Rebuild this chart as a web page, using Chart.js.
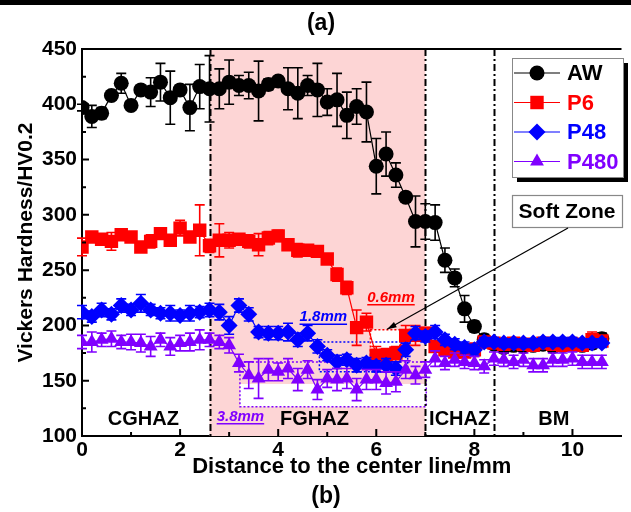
<!DOCTYPE html>
<html>
<head>
<meta charset="utf-8">
<title>Vickers hardness profile</title>
<script src="https://cdn.jsdelivr.net/npm/chart.js@4.4.1/dist/chart.umd.min.js"></script>
<style>
    html, body { margin: 0; padding: 0; background: #fff; }
    #wrap { width: 631px; height: 512px; }
</style>
</head>
<body>
<div id="wrap"><canvas id="hvChart" width="631" height="512"></canvas></div>
<script>
// Distance to the weld center line (mm)
const distance = [0, 0.2, 0.4, 0.6, 0.8, 1, 1.2, 1.4, 1.6, 1.8, 2, 2.2, 2.4, 2.6, 2.8, 3, 3.2, 3.4, 3.6, 3.8,
    4, 4.2, 4.4, 4.6, 4.8, 5, 5.2, 5.4, 5.6, 5.8, 6, 6.2, 6.4, 6.6, 6.8, 7, 7.2, 7.4, 7.6, 7.8,
    8, 8.2, 8.4, 8.6, 8.8, 9, 9.2, 9.4, 9.6, 9.8, 10, 10.2, 10.4, 10.6];

// Hardness (HV0.2) and error bars per condition
const hvAW = [397, 389, 392, 408, 419, 399, 413, 411, 420, 406, 413, 397, 416, 414, 414, 420, 417, 417, 412, 418,
    421, 414, 410, 417, 413, 402, 404, 390, 398, 393, 344, 355, 336, 316, 294, 294, 293, 259, 243, 215,
    199, 187, 183, 180, 182, 181, 182, 183, 181, 182, 183, 182, 184, 188];
const errAW = [3, 10, 5, 3, 9, 3, 3, 13, 17, 24, 4, 21, 20, 30, 18, 20, 9, 12, 27, 5,
    4, 19, 23, 9, 24, 12, 24, 21, 16, 27, 25, 20, 11, 4, 23, 16, 16, 11, 8, 12,
    5, 5, 4, 5, 4, 4, 5, 4, 5, 4, 5, 4, 5, 5];

const hvP6 = [271, 280, 278, 276, 282, 280, 271, 276, 283, 277, 288, 280, 286, 272, 277, 277, 278, 276, 273, 279,
    281, 273, 268, 268, 267, 260, 246, 234, 198, 203, 173, 173, 175, 191, 191, 193, 181, 178, 176, 176,
    178, 185, 184, 183, 184, 183, 182, 184, 183, 182, 183, 182, 187, 186];
const errP6 = [8, 4, 4, 8, 4, 4, 4, 6, 4, 4, 7, 4, 23, 6, 15, 7, 4, 6, 10, 6,
    5, 5, 6, 4, 5, 4, 6, 6, 16, 8, 8, 6, 6, 9, 9, 5, 5, 4, 4, 4,
    6, 5, 4, 5, 4, 4, 5, 4, 5, 4, 6, 4, 7, 4];

const hvP48 = [212, 208, 214, 210, 218, 214, 220, 214, 211, 211, 209, 211, 212, 214, 212, 200, 218, 210, 194, 193,
    193, 194, 187, 193, 181, 173, 167, 169, 164, 166, 163, 164, 161, 178, 193, 190, 194, 187, 183, 180,
    178, 185, 185, 184, 184, 184, 184, 185, 185, 185, 185, 184, 184, 184];
const errP48 = [6, 5, 6, 5, 6, 5, 8, 5, 5, 7, 5, 7, 5, 6, 7, 8, 6, 6, 5, 6,
    6, 8, 6, 7, 6, 5, 6, 5, 6, 5, 5, 6, 6, 6, 6, 5, 6, 5, 5, 5,
    5, 4, 4, 4, 4, 4, 4, 4, 4, 4, 4, 4, 4, 4];

const hvP480 = [185, 185, 187, 188, 185, 185, 184, 181, 187, 181, 184, 185, 187, 187, 185, 182, 166, 155, 152, 160,
    158, 161, 151, 160, 142, 152, 151, 152, 142, 151, 151, 148, 149, 160, 155, 160, 170, 166, 169, 167,
    166, 163, 170, 169, 167, 169, 164, 164, 169, 169, 170, 167, 167, 167];
const errP480 = [6, 9, 6, 7, 6, 7, 8, 9, 6, 8, 7, 8, 9, 6, 6, 7, 8, 12, 18, 10,
    8, 9, 10, 8, 9, 8, 10, 9, 10, 9, 9, 10, 9, 8, 8, 7, 7, 6, 6, 6,
    6, 6, 6, 6, 6, 6, 6, 6, 6, 6, 6, 6, 6, 6];

const seriesNames = ['AW', 'P6', 'P48', 'P480'];
const zoneBounds = [2.6, 7.0, 8.4];
const zoneNames = ['CGHAZ', 'FGHAZ', 'ICHAZ', 'BM'];
const softWidths = ['3.8mm', '1.8mm', '0.6mm'];

const FONT = "'Liberation Sans', Arial, sans-serif";
const colors = ['#000000', '#ff0000', '#0000ff', '#8000ff'];
const shapes = ['circle', 'rect', 'rectRot', 'triangle'];
const radii = [7.5, 9.5, 8.5, 8];
const errors = [errAW, errP6, errP48, errP480];

function toPoints(values) {
    return distance.map((d, i) => ({ x: d, y: values[i] }));
}

function makeDataset(i, values) {
    return {
        label: seriesNames[i],
        data: toPoints(values),
        borderColor: colors[i],
        backgroundColor: colors[i],
        borderWidth: 1.2,
        pointStyle: shapes[i],
        pointRadius: radii[i],
        pointBorderWidth: 0,
        pointBackgroundColor: colors[i],
        order: 4 - i
    };
}

function drawMarker(ctx, shape, x, y, r, color) {
    ctx.fillStyle = color;
    ctx.beginPath();
    if (shape === 'circle') {
        ctx.arc(x, y, r, 0, Math.PI * 2);
    } else if (shape === 'rect') {
        const s = r * Math.SQRT1_2;
        ctx.rect(x - s, y - s, 2 * s, 2 * s);
    } else if (shape === 'rectRot') {
        ctx.moveTo(x, y - r); ctx.lineTo(x + r, y); ctx.lineTo(x, y + r); ctx.lineTo(x - r, y);
    } else {
        ctx.moveTo(x, y - r); ctx.lineTo(x + r * 0.866, y + r * 0.5); ctx.lineTo(x - r * 0.866, y + r * 0.5);
    }
    ctx.closePath();
    ctx.fill();
}

function underlinedText(ctx, text, x, y, color) {
    ctx.font = 'italic bold 15px ' + FONT;
    ctx.fillStyle = color;
    ctx.textAlign = 'center';
    ctx.textBaseline = 'middle';
    ctx.fillText(text, x, y);
    const w = ctx.measureText(text).width;
    ctx.strokeStyle = color;
    ctx.lineWidth = 1.5;
    ctx.setLineDash([]);
    ctx.beginPath();
    ctx.moveTo(x - w / 2, y + 7);
    ctx.lineTo(x + w / 2, y + 7);
    ctx.stroke();
}

const hardnessPlugin = {
    id: 'hardness',
    beforeDraw(chart) {
        const ctx = chart.ctx;
        ctx.save();
        ctx.fillStyle = '#fff';
        ctx.fillRect(0, 0, chart.width, chart.height);
        ctx.fillStyle = '#000';
        ctx.fillRect(0, 0, chart.width, 5);
        ctx.font = 'bold 23px ' + FONT;
        ctx.textAlign = 'center';
        ctx.textBaseline = 'middle';
        ctx.fillText('(a)', 321, 24);
        ctx.fillText('(b)', 326, 497);
        ctx.restore();
    },
    beforeDatasetsDraw(chart) {
        const { ctx, chartArea: a, scales: { x, y } } = chart;
        ctx.save();
        // FGHAZ shading
        ctx.fillStyle = '#fdd5d5';
        ctx.fillRect(x.getPixelForValue(zoneBounds[0]), a.top, x.getPixelForValue(zoneBounds[1]) - x.getPixelForValue(zoneBounds[0]), a.bottom - a.top);

        // soft zone boxes: [x0, x1, yTop, yBottom, color]
        const boxes = [
            [3.22, 7.02, 167, 126.5, colors[3]],
            [4.84, 6.64, 185, 158, colors[2]],
            [5.88, 6.48, 196, 173, colors[1]]
        ];
        ctx.fillStyle = '#fff';
        ctx.fillRect(x.getPixelForValue(3.22), y.getPixelForValue(147), x.getPixelForValue(7.02) - x.getPixelForValue(3.22), y.getPixelForValue(126.5) - y.getPixelForValue(147));
        ctx.fillRect(x.getPixelForValue(5.88), y.getPixelForValue(196), x.getPixelForValue(6.48) - x.getPixelForValue(5.88), y.getPixelForValue(173) - y.getPixelForValue(196));
        ctx.lineWidth = 1.5;
        ctx.setLineDash([2, 2]);
        boxes.forEach(b => {
            ctx.strokeStyle = b[4];
            ctx.strokeRect(x.getPixelForValue(b[0]), y.getPixelForValue(b[2]), x.getPixelForValue(b[1]) - x.getPixelForValue(b[0]), y.getPixelForValue(b[3]) - y.getPixelForValue(b[2]));
        });

        // zone boundaries (dash-dot)
        ctx.strokeStyle = '#000';
        ctx.lineWidth = 2;
        ctx.setLineDash([7, 3, 2, 3]);
        zoneBounds.forEach(b => {
            const px = Math.round(x.getPixelForValue(b)) + 0.5;
            ctx.beginPath();
            ctx.moveTo(px, a.top);
            ctx.lineTo(px, a.bottom);
            ctx.stroke();
        });
        ctx.restore();
    },
    afterDatasetDraw(chart, args) {
        const ctx = chart.ctx;
        const i = args.index;
        const meta = args.meta;
        const err = errors[i];
        const y = chart.scales.y;
        ctx.save();
        ctx.strokeStyle = colors[i];
        ctx.lineWidth = 1.6;
        ctx.setLineDash([]);
        meta.data.forEach((pt, k) => {
            const v = chart.data.datasets[i].data[k].y;
            const yTop = y.getPixelForValue(v + err[k]);
            const yBot = y.getPixelForValue(v - err[k]);
            ctx.beginPath();
            ctx.moveTo(pt.x, yTop); ctx.lineTo(pt.x, yBot);
            ctx.moveTo(pt.x - 5, yTop); ctx.lineTo(pt.x + 5, yTop);
            ctx.moveTo(pt.x - 5, yBot); ctx.lineTo(pt.x + 5, yBot);
            ctx.stroke();
        });
        ctx.restore();
    },
    afterDraw(chart) {
        const { ctx, chartArea: a, scales: { x, y } } = chart;
        ctx.save();
        // frame top and inward ticks
        ctx.strokeStyle = '#000';
        ctx.lineWidth = 2;
        ctx.beginPath();
        ctx.moveTo(a.left, a.top);
        ctx.lineTo(a.right, a.top);
        for (let v = 0; v <= 10; v++) {
            const px = x.getPixelForValue(v);
            ctx.moveTo(px, a.bottom);
            ctx.lineTo(px, a.bottom - (v % 2 === 0 ? 7 : 4));
        }
        for (let v = 100; v <= 450; v += 25) {
            const py = y.getPixelForValue(v);
            ctx.moveTo(a.left, py);
            ctx.lineTo(a.left + (v % 50 === 0 ? 7 : 4), py);
        }
        ctx.stroke();

        // zone names
        ctx.fillStyle = '#000';
        ctx.font = 'bold 20px ' + FONT;
        ctx.textAlign = 'center';
        ctx.textBaseline = 'middle';
        const zoneX = [1.25, 4.74, 7.7, 9.62];
        zoneNames.forEach((n, k) => ctx.fillText(n, x.getPixelForValue(zoneX[k]), y.getPixelForValue(114.5)));

        underlinedText(ctx, softWidths[0], x.getPixelForValue(3.23), y.getPixelForValue(117.5), colors[3]);
        underlinedText(ctx, softWidths[1], x.getPixelForValue(4.92), y.getPixelForValue(207.5), colors[2]);
        underlinedText(ctx, softWidths[2], x.getPixelForValue(6.3), y.getPixelForValue(225), colors[1]);

        // legend with shadow
        ctx.fillStyle = '#000';
        ctx.fillRect(517, 63, 111, 119);
        ctx.fillStyle = '#fff';
        ctx.fillRect(512, 58, 111, 119);
        ctx.strokeStyle = '#888';
        ctx.lineWidth = 1;
        ctx.strokeRect(512.5, 58.5, 111, 119);
        ctx.font = 'bold 22px ' + FONT;
        ctx.textAlign = 'left';
        seriesNames.forEach((n, k) => {
            const ly = 73 + k * 29.5;
            ctx.strokeStyle = colors[k];
            ctx.lineWidth = 1.2;
            ctx.beginPath();
            ctx.moveTo(514, ly);
            ctx.lineTo(560, ly);
            ctx.stroke();
            drawMarker(ctx, shapes[k], 537, ly, radii[k], colors[k]);
            ctx.fillStyle = colors[k];
            ctx.fillText(n, 567, ly + 1);
        });

        // Soft Zone label and arrow
        ctx.fillStyle = '#fff';
        ctx.fillRect(512, 195, 111, 32);
        ctx.strokeStyle = '#888';
        ctx.strokeRect(512.5, 195.5, 110, 32);
        ctx.fillStyle = '#000';
        ctx.font = 'bold 21px ' + FONT;
        ctx.textAlign = 'center';
        ctx.fillText('Soft Zone', 567, 212);
        const ax = x.getPixelForValue(6.22), ay = y.getPixelForValue(196.5);
        ctx.strokeStyle = '#000';
        ctx.lineWidth = 1.2;
        ctx.beginPath();
        ctx.moveTo(568, 228);
        ctx.lineTo(ax, ay);
        ctx.stroke();
        const ang = Math.atan2(ay - 228, ax - 568);
        ctx.beginPath();
        ctx.moveTo(ax, ay);
        ctx.lineTo(ax - 10 * Math.cos(ang - 0.3), ay - 10 * Math.sin(ang - 0.3));
        ctx.lineTo(ax - 10 * Math.cos(ang + 0.3), ay - 10 * Math.sin(ang + 0.3));
        ctx.closePath();
        ctx.fill();
        ctx.restore();
    }
};

const ctx = document.getElementById('hvChart').getContext('2d');
new Chart(ctx, {
    type: 'line',
    data: {
        datasets: [
            makeDataset(0, hvAW),
            makeDataset(1, hvP6),
            makeDataset(2, hvP48),
            makeDataset(3, hvP480)
        ]
    },
    options: {
        responsive: false,
        animation: false,
        layout: { padding: { top: 49, right: 0, bottom: 32, left: 0 } },
        plugins: { legend: { display: false }, tooltip: { enabled: false } },
        scales: {
            x: {
                type: 'linear',
                min: 0,
                max: 11,
                afterFit: s => { s.height = 44; },
                ticks: { stepSize: 2, includeBounds: false, color: '#000', padding: 2, font: { family: FONT, size: 21, weight: 'bold' } },
                grid: { display: false, drawTicks: false },
                border: { display: true, color: '#000', width: 2 },
                title: { display: true, text: 'Distance to the center line/mm', color: '#000', padding: { top: 0, bottom: 0 }, font: { family: FONT, size: 22, weight: 'bold' } }
            },
            y: {
                min: 100,
                max: 450,
                afterFit: s => { s.width = 82; },
                ticks: { stepSize: 50, color: '#000', padding: 5, font: { family: FONT, size: 21, weight: 'bold' } },
                grid: { display: false, drawTicks: false },
                border: { display: true, color: '#000', width: 2 },
                title: { display: true, text: 'Vickers Hardness/HV0.2', color: '#000', padding: { top: 14, bottom: 0 }, font: { family: FONT, size: 21, weight: 'bold' } }
            }
        }
    },
    plugins: [hardnessPlugin]
});
</script>
</body>
</html>
